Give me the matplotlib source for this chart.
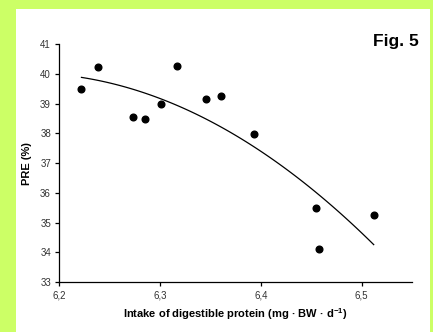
import numpy as np
import matplotlib
matplotlib.use("Agg")
import matplotlib.pyplot as plt
from matplotlib.patches import Rectangle

plt.rcParams['font.family'] = ['Liberation Sans', 'DejaVu Sans']
plt.rcParams['mathtext.fontset'] = 'custom'
plt.rcParams['mathtext.rm'] = 'Liberation Sans'
plt.rcParams['mathtext.bf'] = 'Liberation Sans:bold'

# intake of digestible protein vs. PRE
intake = [6.222, 6.238, 6.273, 6.285, 6.301, 6.317, 6.346, 6.360, 6.393, 6.455, 6.458, 6.512]
pre = [39.50, 40.24, 38.54, 38.50, 39.00, 40.28, 39.17, 39.26, 37.99, 35.50, 34.10, 35.26]

# regression curve
curve_x = [6.222, 6.320, 6.330, 6.386, 6.429, 6.443, 6.479, 6.512]
curve_y = [39.89, 38.92, 38.76, 37.55, 36.71, 36.49, 35.31, 34.21]

xticks = [6.2, 6.3, 6.4, 6.5]
xtick_labels = ['6,2', '6,3', '6,4', '6,5']
yticks = [33, 34, 35, 36, 37, 38, 39, 40, 41]

fig = plt.figure(figsize=(4.33, 3.32), dpi=100)
fig.patch.set_facecolor('#ccff66')
# white panel behind the axes
fig.patches.append(Rectangle((16 / 433, 0), (430 - 16) / 433, (332 - 9) / 332,
                             transform=fig.transFigure, facecolor='white',
                             edgecolor='none', zorder=-5))

ax = fig.add_axes([59.3 / 433, 50 / 332, (412 - 59.3) / 433, (282 - 44.3) / 332])
ax.set_zorder(2)
ax.set_facecolor('white')

ax.plot(intake, pre, 'o', color='black', markersize=4.8, zorder=3)

# smooth quadratic through the curve readings
coef = np.polyfit(curve_x, curve_y, 2)
xs = np.linspace(curve_x[0], curve_x[-1], 100)
ax.plot(xs, np.polyval(coef, xs), color='black', linewidth=0.9)

ax.set_xlim(6.2, 6.55)
ax.set_ylim(33, 41)
ax.set_xticks(xticks)
ax.set_xticklabels(xtick_labels)
ax.set_yticks(yticks)

for s in ['top', 'right']:
    ax.spines[s].set_visible(False)
for s in ['left', 'bottom']:
    ax.spines[s].set_linewidth(0.9)
ax.tick_params(direction='out', length=3, width=0.9, labelsize=7, colors='black',
               labelcolor='#333333', pad=3)

ax.set_xlabel(r'Intake of digestible protein (mg · BW · d$^{\mathbf{-1}}$)',
              fontsize=8, fontweight='bold', labelpad=4)
ax.set_ylabel('PRE (%)', fontsize=8, fontweight='bold', labelpad=6)

fig.text(419 / 433, 1 - 46 / 332, 'Fig. 5', fontsize=12.5, fontweight='bold',
         ha='right', va='baseline')

fig.savefig('out.png', dpi=100, facecolor=fig.get_facecolor())
